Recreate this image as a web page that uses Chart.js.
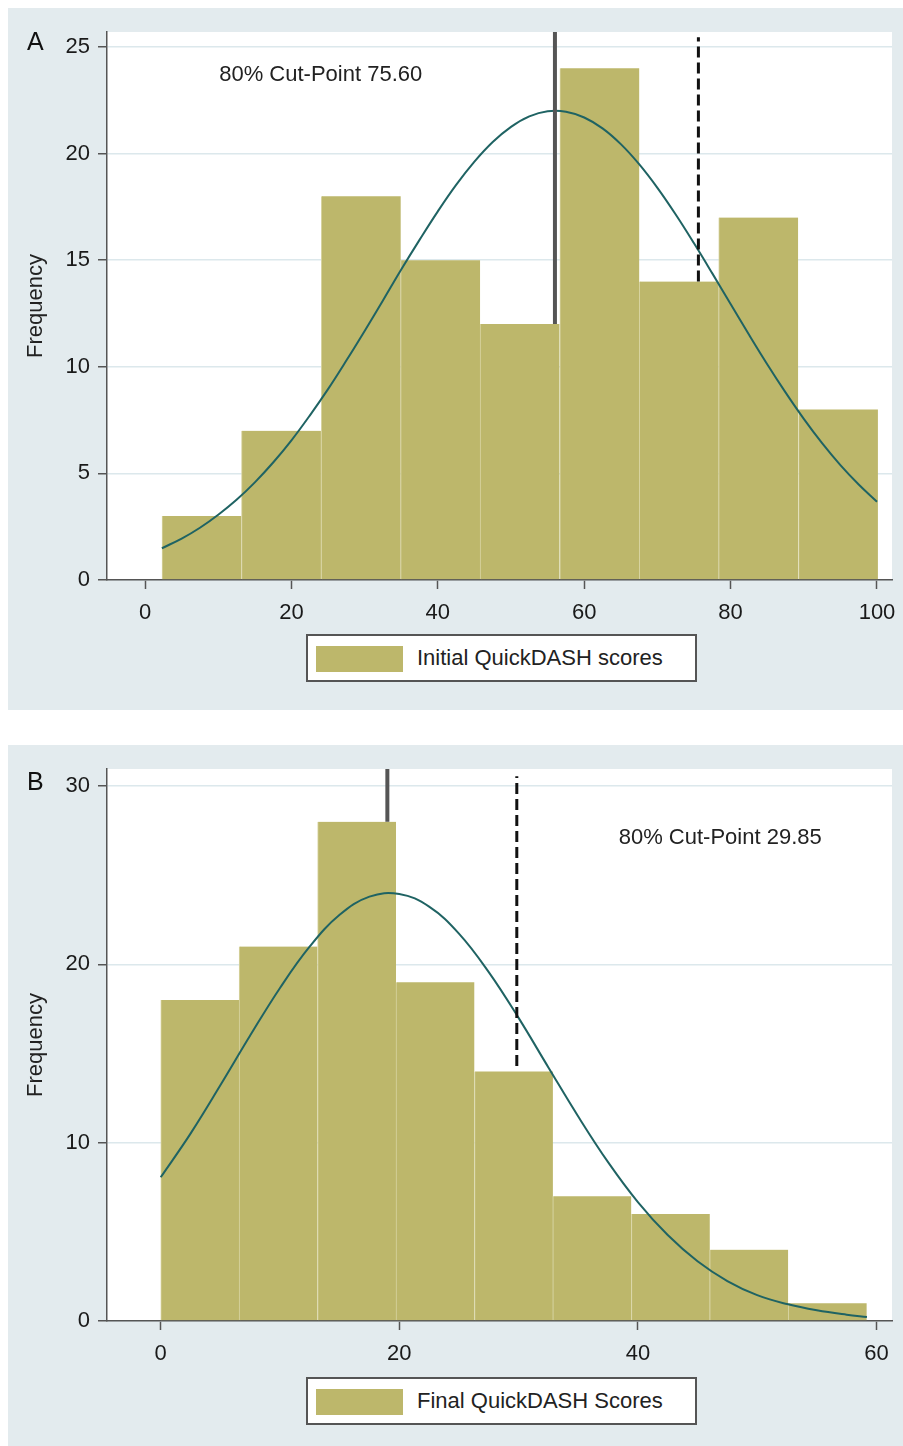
<!DOCTYPE html>
<html lang="en">
<head>
  <meta charset="UTF-8">
  <title>QuickDASH histograms</title>
  <script src="https://cdn.jsdelivr.net/npm/chart.js@4.4.0/dist/chart.umd.min.js"></script>
  <style>
    body { margin: 0; background: #fff; font-family: "Liberation Sans", Arial, Helvetica, sans-serif; }
    .panel { position: absolute; left: 8px; width: 895px; background: #e3ebee; }
    .panel canvas { position: absolute; left: 0; top: 0; }
    .tag { position: absolute; left: 19px; font-size: 25px; line-height: 25px; color: #111; }
    .legend { position: absolute; left: 298px; width: 387px; height: 44px; background: #fff;
              border: 2px solid #555; }
    .legend .swatch { position: absolute; left: 8px; top: 10px; width: 87px; height: 26px; background: #bdb76b; }
    .legend .txt { position: absolute; left: 109px; top: 0; line-height: 44px; font-size: 22px; color: #222; }
  </style>
</head>
<body>
<div class="panel" style="top:8px; height:702px;">
  <canvas id="chartA" width="895" height="702"></canvas>
  <div class="tag" style="top:21px;">A</div>
  <div class="legend" style="top:626px;"><div class="swatch"></div><div class="txt">Initial QuickDASH scores</div></div>
</div>
<div class="panel" style="top:745px; height:701px;">
  <canvas id="chartB" width="895" height="701"></canvas>
  <div class="tag" style="top:24px;">B</div>
  <div class="legend" style="top:632px;"><div class="swatch"></div><div class="txt">Final QuickDASH Scores</div></div>
</div>
<script>
// ---- Panel A: initial scores ----
const binCentersA = [7.74, 18.6, 29.5, 40.35, 51.2, 62.1, 72.95, 83.8, 94.7];
const countsA = [3, 7, 18, 15, 12, 24, 14, 17, 8];
const curveXA = [2.3, 5, 7.5, 10, 12.5, 15, 17.5, 20, 22.5, 25, 27.5, 30, 32.5, 35, 37.5, 40, 42.5, 45, 47.5, 50,
                 52.5, 55, 57.5, 60, 62.5, 65, 67.5, 70, 72.5, 75, 77.5, 80, 82.5, 85, 87.5, 90, 92.5, 95, 97.5, 100];
const curveYA = [1.49, 1.94, 2.45, 3.06, 3.76, 4.58, 5.51, 6.55, 7.71, 8.95, 10.29, 11.68, 13.11, 14.56, 15.95, 17.29, 18.53, 19.62, 20.54, 21.25,
                 21.74, 21.98, 21.96, 21.69, 21.18, 20.44, 19.5, 18.39, 17.14, 15.79, 14.38, 12.94, 11.51, 10.12, 8.8, 7.56, 6.42, 5.39, 4.48, 3.67];
const meanLineA = [[56.0, 12], [56.0, 25.7]];
const cutLineA = [[75.6, 14], [75.6, 25.45]];
const xTicksA = [0, 20, 40, 60, 80, 100];
const yTicksA = [0, 5, 10, 15, 20, 25];
const cutTextA = '80% Cut-Point 75.60';

// ---- Panel B: final scores ----
const binCentersB = [3.29, 9.86, 16.44, 23.01, 29.59, 36.16, 42.74, 49.31, 55.89];
const countsB = [18, 21, 28, 19, 14, 7, 6, 4, 1];
const curveXB = [0, 2.5, 5, 7.5, 10, 12.5, 15, 17.5, 20, 22.5, 25, 27.5, 30, 32.5, 35, 37.5, 40, 42.5, 45, 47.5, 50, 52.5, 55, 57.5, 59.2];
const curveYB = [8.06, 10.51, 13.22, 16.01, 18.68, 21.01, 22.78, 23.8, 23.95, 23.24, 21.73, 19.57, 17.0, 14.22, 11.47, 8.91, 6.67, 4.82, 3.35, 2.24, 1.45, 0.95, 0.6, 0.35, 0.22];
const meanLineB = [[19.0, 28], [19.0, 31]];
const cutLineB = [[29.85, 14.3], [29.85, 30.55]];
const xTicksB = [0, 20, 40, 60];
const yTicksB = [0, 10, 20, 30];
const cutTextB = '80% Cut-Point 29.85';

const FONT = '"Liberation Sans", Arial, Helvetica, sans-serif';
const pts = (xs, ys) => xs.map((x, i) => ({ x: x, y: ys[i] }));
const pairs = arr => arr.map(p => ({ x: p[0], y: p[1] }));

// white plot region + cut-point caption
const plotBg = {
  id: 'plotBg',
  beforeDraw(chart) {
    const a = chart.chartArea, ctx = chart.ctx;
    ctx.save();
    ctx.fillStyle = '#fff';
    ctx.fillRect(a.left, a.top, a.right - a.left, a.bottom - a.top);
    ctx.restore();
  },
  afterDatasetsDraw(chart, args, opts) {
    if (!opts.text) return;
    const ctx = chart.ctx;
    ctx.save();
    ctx.font = '22px ' + FONT;
    ctx.fillStyle = '#222';
    ctx.textAlign = 'center';
    ctx.textBaseline = 'middle';
    ctx.fillText(opts.text, chart.scales.x.getPixelForValue(opts.x), chart.scales.y.getPixelForValue(opts.y));
    ctx.restore();
  }
};

function makeChart(id, cfg) {
  const ctx = document.getElementById(id).getContext('2d');
  return new Chart(ctx, {
    type: 'bar',
    data: {
      datasets: [
        { type: 'line', data: pairs(cfg.cut), borderColor: '#111', borderWidth: 3, borderDash: [11, 5],
          pointRadius: 0, order: 1 },
        { type: 'line', data: pairs(cfg.mean), borderColor: '#555', borderWidth: 4,
          pointRadius: 0, order: 1 },
        { type: 'line', data: pts(cfg.curveX, cfg.curveY), borderColor: '#1f6363', borderWidth: 2,
          pointRadius: 0, tension: 0.4, order: 2 },
        { type: 'bar', data: pts(cfg.centers, cfg.counts), backgroundColor: '#bdb76b',
          borderColor: '#d8d4a2', borderWidth: { left: 1, right: 0, top: 0, bottom: 0 }, borderSkipped: false,
          barPercentage: 1, categoryPercentage: 1, order: 3 }
      ]
    },
    options: {
      responsive: false,
      animation: false,
      devicePixelRatio: 1,
      layout: { padding: { top: 24, right: 11, left: 0, bottom: 0 } },
      plugins: {
        legend: { display: false },
        tooltip: { enabled: false },
        plotBg: { text: cfg.cutText, x: cfg.textX, y: cfg.textY }
      },
      scales: {
        x: {
          type: 'linear', min: cfg.xMin, max: cfg.xMax, offset: false,
          grid: { drawOnChartArea: false, offset: false, tickLength: 9, tickColor: '#555', tickWidth: 1.5 },
          border: { color: '#555', width: 1.5 },
          ticks: { padding: 11, color: '#1a1a1a', font: { family: FONT, size: 22 }, maxRotation: 0, autoSkip: false },
          afterBuildTicks: s => { s.ticks = cfg.xTicks.map(v => ({ value: v })); },
          afterFit: s => { s.height = cfg.xHeight; s.paddingLeft = 0; s.paddingRight = 0; }
        },
        y: {
          min: 0, max: cfg.yMax,
          grid: { color: '#dce8ec', lineWidth: 1.5, tickLength: 9, tickColor: '#555', tickWidth: 1.5 },
          border: { color: '#555', width: 1.5 },
          ticks: { padding: 8, color: '#1a1a1a', font: { family: FONT, size: 22 } },
          afterBuildTicks: s => { s.ticks = cfg.yTicks.map(v => ({ value: v })); },
          afterFit: s => { s.width = 99; s.paddingTop = 0; s.paddingBottom = 0; },
          title: { display: true, text: 'Frequency', color: '#222', font: { family: FONT, size: 22 }, padding: { top: 15 } }
        }
      }
    },
    plugins: [plotBg]
  });
}

makeChart('chartA', {
  centers: binCentersA, counts: countsA, curveX: curveXA, curveY: curveYA,
  mean: meanLineA, cut: cutLineA, xTicks: xTicksA, yTicks: yTicksA,
  xMin: -5.2, xMax: 102.05, yMax: 25.7, xHeight: 130,
  cutText: cutTextA, textX: 24, textY: 23.7
});

makeChart('chartB', {
  centers: binCentersB, counts: countsB, curveX: curveXB, curveY: curveYB,
  mean: meanLineB, cut: cutLineB, xTicks: xTicksB, yTicks: yTicksB,
  xMin: -4.5, xMax: 61.3, yMax: 30.96, xHeight: 125,
  cutText: cutTextB, textX: 46.9, textY: 27.1
});
</script>
</body>
</html>
